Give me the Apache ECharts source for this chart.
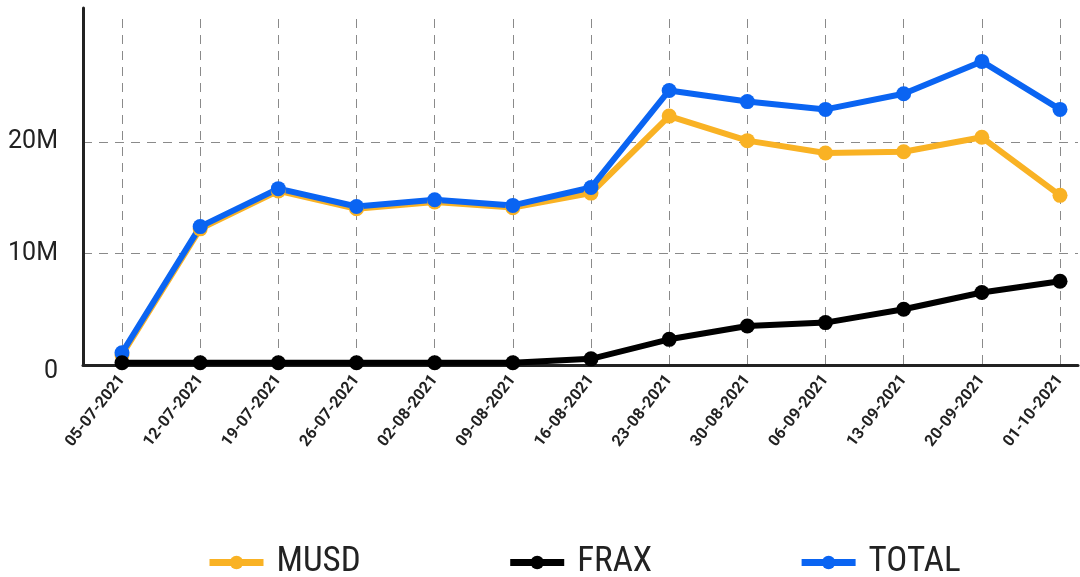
<!DOCTYPE html>
<html>
<head>
<meta charset="utf-8">
<script src="https://cdn.jsdelivr.net/npm/echarts@6/dist/echarts.min.js"></script>
<style>
  html, body { margin: 0; padding: 0; background: #fff; }
  #chart { width: 1080px; height: 577px; }
</style>
</head>
<body>
<div id="chart"></div>
<script>
const dates = ['05-07-2021', '12-07-2021', '19-07-2021', '26-07-2021', '02-08-2021', '09-08-2021',
  '16-08-2021', '23-08-2021', '30-08-2021', '06-09-2021', '13-09-2021', '20-09-2021', '01-10-2021'];
const musd = [0.9, 12.2, 15.6, 14.0, 14.6, 14.1, 15.4, 22.3, 20.1, 19.0, 19.1, 20.4, 15.2];
const frax = [0.2, 0.2, 0.2, 0.2, 0.2, 0.2, 0.55, 2.3, 3.5, 3.8, 5.0, 6.5, 7.5];
const total = [1.1, 12.4, 15.8, 14.2, 14.8, 14.3, 15.9, 24.6, 23.6, 22.9, 24.3, 27.2, 22.9];
const yTicks = [0, 10, 20];

const M = 1e6;
const grey = '#8a8a8a';
const font = 'Roboto, "Liberation Sans", sans-serif';
const narrow = '"Liberation Sans Narrow", "Roboto Condensed", "DejaVu Sans Condensed", Roboto, sans-serif';

let chart = echarts.init(document.getElementById('chart'));

const mkSeries = (name, color, values) => ({
  name: name,
  type: 'line',
  xAxisIndex: 1,
  yAxisIndex: 1,
  data: values.map(v => v * M),
  symbol: 'circle',
  symbolSize: 15,
  lineStyle: { width: 6, color: color },
  itemStyle: { color: color },
  emphasis: { disabled: true },
  animation: false
});

const chartOptions = {
  backgroundColor: '#fff',
  grid: [
    { left: 83, right: 2, top: 8, bottom: 212 },
    { left: 122, right: 20, top: 19, bottom: 212 }
  ],
  legend: {
    data: ['MUSD', 'FRAX', 'TOTAL'],
    left: 201,
    top: 540,
    itemWidth: 54,
    itemHeight: 17,
    itemGap: 146,
    lineStyle: { width: 7 },
    textStyle: { fontFamily: narrow, fontSize: 35, color: '#222', padding: [0, 0, 0, 8] }
  },
  xAxis: [
    {
      gridIndex: 0,
      type: 'value',
      min: 0,
      max: 1,
      axisLine: { show: true, lineStyle: { color: '#222', width: 3 } },
      axisTick: { show: false },
      axisLabel: { show: false },
      splitLine: { show: false }
    },
    {
      gridIndex: 1,
      type: 'category',
      boundaryGap: false,
      data: dates,
      axisLine: { show: false },
      axisTick: { show: false },
      axisLabel: {
        rotate: 52,
        margin: 12,
        fontFamily: font,
        fontWeight: 'bold',
        fontSize: 16,
        color: '#222'
      },
      splitLine: { show: true, lineStyle: { color: grey, type: [9, 7], width: 1 } }
    }
  ],
  yAxis: [
    {
      gridIndex: 0,
      type: 'value',
      min: 0,
      max: 32 * M,
      interval: 10 * M,
      axisLine: { show: true, lineStyle: { color: '#222', width: 3 } },
      axisTick: { show: false },
      axisLabel: {
        margin: 25,
        fontFamily: font,
        fontSize: 25,
        color: '#222',
        formatter: v => yTicks.indexOf(v / M) < 0 ? '' : (v === 0 ? '{z|0}' : (v / M) + 'M'),
        rich: { z: { fontFamily: font, fontSize: 25, color: '#222', padding: [14, 0, 0, 0] } }
      },
      splitLine: {
        show: true,
        lineStyle: {
          color: [grey, grey, grey, 'rgba(0,0,0,0)', 'rgba(0,0,0,0)'],
          type: [9, 7],
          width: 1
        }
      }
    },
    {
      gridIndex: 1,
      type: 'value',
      min: 0,
      max: 31 * M,
      show: false
    }
  ],
  series: [
    mkSeries('MUSD', '#F9B224', musd),
    mkSeries('TOTAL', '#0A64F2', total),
    mkSeries('FRAX', '#000000', frax)
  ]
};
chart.setOption(chartOptions);
</script>
</body>
</html>
